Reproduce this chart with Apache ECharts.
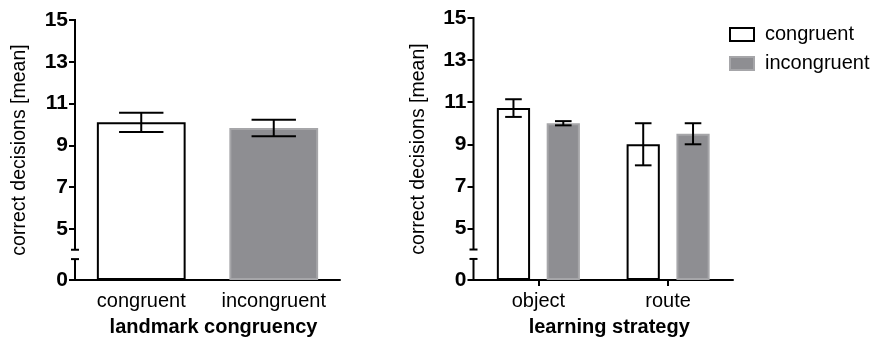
<!DOCTYPE html>
<html><head><meta charset="utf-8">
<script src="https://cdn.jsdelivr.net/npm/echarts@6/dist/echarts.min.js"></script>
<style>html,body{margin:0;padding:0;background:#fff}#c{width:880px;height:342px}</style>
</head><body><div id="c"></div>
<script>
// ---- data ----
const leftCategories = ['congruent', 'incongruent'];
const leftMeans = [10.1, 9.83];
const leftErrors = [0.46, 0.40];
const rightCategories = ['object', 'route'];
const seriesNames = ['congruent', 'incongruent'];
const congruentMeans = [10.72, 9.0];
const congruentErrors = [0.42, 1.0];
const incongruentMeans = [10.0, 9.5];
const incongruentErrors = [0.1, 0.5];
const yTickValues = [0, 5, 7, 9, 11, 13, 15];
const yBreakStart = 1;
const yBreakEnd = 4;
const yMax = 15;

// ---- styles ----
const FONT = 'Liberation Sans, Arial, Helvetica, sans-serif';
const whiteStyle = { color: '#ffffff', borderColor: '#000000', borderWidth: 2 };
const grayStyle = { color: '#8e8e92', borderColor: '#a6a6a9', borderWidth: 2 };
const styles = [whiteStyle, grayStyle];

const LEFT_CAT_GAP = 0.33;
const RIGHT_CAT_GAP = 0.36;
const RIGHT_BAR_GAP = 0.50;

function errorRender(idx, count, catGap, barGap) {
  return function (params, api) {
    const x = api.value(0), mean = api.value(1), err = api.value(2);
    const band = api.size([1, 0])[0];
    const total = band * (1 - catGap);
    const bw = total / (count + (count - 1) * barGap);
    const off = -total / 2 + idx * bw * (1 + barGap) + bw / 2;
    const cx = api.coord([x, mean])[0] + off;
    const top = api.coord([x, mean + err])[1];
    const bot = api.coord([x, mean - err])[1];
    const hw = bw / 4;
    const st = { stroke: '#000', lineWidth: 2 };
    return { type: 'group', children: [
      { type: 'line', shape: { x1: cx, y1: top, x2: cx, y2: bot }, style: st },
      { type: 'line', shape: { x1: cx - hw, y1: top, x2: cx + hw, y2: top }, style: st },
      { type: 'line', shape: { x1: cx - hw, y1: bot, x2: cx + hw, y2: bot }, style: st }
    ]};
  };
}

function axisRender(params, api) {
  const cs = params.coordSys;
  const x = cs.x;
  const y0 = api.coord([0, 0])[1];
  const yb0 = api.coord([0, yBreakStart])[1];
  const yb1 = api.coord([0, yBreakEnd])[1];
  const yt = api.coord([0, yMax])[1];
  const st = { stroke: '#000', lineWidth: 2 };
  return { type: 'group', children: [
    { type: 'line', shape: { x1: x, y1: y0 + 1, x2: x, y2: yb0 }, style: st },
    { type: 'line', shape: { x1: x - 4, y1: yb0, x2: x + 4, y2: yb0 }, style: st },
    { type: 'line', shape: { x1: x, y1: yb1, x2: x, y2: yt - 1 }, style: st },
    { type: 'line', shape: { x1: x - 4, y1: yb1, x2: x + 4, y2: yb1 }, style: st }
  ]};
}

function yAxisFor(gridIndex) {
  return {
    gridIndex, type: 'value', min: 0, max: yMax,
    breaks: [{ start: yBreakStart, end: yBreakEnd, gap: '3.6%' }],
    breakArea: { show: false },
    axisLine: { show: false },
    splitLine: { show: false },
    axisTick: { show: true, length: 6, customValues: yTickValues, lineStyle: { color: '#000', width: 2 } },
    axisLabel: { customValues: yTickValues, fontSize: 21, fontWeight: 'bold', color: '#000', margin: 7, fontFamily: FONT },
    name: 'correct decisions [mean]', nameLocation: 'middle', nameGap: 45,
    nameTextStyle: { fontSize: 19.5, color: '#000', fontFamily: FONT }
  };
}

function xAxisFor(gridIndex, data, name, ticks) {
  return {
    gridIndex, type: 'category', data,
    axisLine: { lineStyle: { color: '#000', width: 2 } },
    axisTick: { show: ticks, alignWithLabel: true, length: 6, lineStyle: { color: '#000', width: 2 } },
    axisLabel: { interval: 0, hideOverlap: false, fontSize: 20, color: '#000', margin: 11, fontFamily: FONT },
    name, nameLocation: 'middle', nameGap: 37,
    nameTextStyle: { fontSize: 20, fontWeight: 'bold', color: '#000', fontFamily: FONT, padding: [0, 0, 0, 12] }
  };
}

const chart = echarts.init(document.getElementById('c'), null, { renderer: 'canvas' });
chart.setOption({
  animation: false,
  backgroundColor: '#fff',
  textStyle: { fontFamily: FONT },
  grid: [
    { left: 75, top: 20, width: 265, height: 263 },
    { left: 473.5, top: 18, width: 259.5, height: 264 }
  ],
  xAxis: [
    xAxisFor(0, leftCategories, 'landmark congruency', false),
    xAxisFor(1, rightCategories, 'learning strategy', true)
  ],
  yAxis: [yAxisFor(0), yAxisFor(1)],
  legend: {
    data: seriesNames, orient: 'vertical', left: 724, top: 19, icon: 'rect',
    itemWidth: 24, itemHeight: 13, itemGap: 8,
    textStyle: { fontSize: 20, color: '#000', fontFamily: FONT, lineHeight: 21, padding: [0, 0, 0, 6] }
  },
  series: [
    {
      type: 'bar', name: 'landmark', xAxisIndex: 0, yAxisIndex: 0,
      barCategoryGap: (LEFT_CAT_GAP * 100) + '%',
      data: leftMeans.map((v, i) => ({ value: v, itemStyle: styles[i] }))
    },
    {
      type: 'custom', name: 'landmark-err', xAxisIndex: 0, yAxisIndex: 0, z: 5,
      renderItem: errorRender(0, 1, LEFT_CAT_GAP, 0),
      encode: { x: 0, y: 1 },
      data: leftMeans.map((v, i) => [i, v, leftErrors[i]])
    },
    {
      type: 'bar', name: seriesNames[0], xAxisIndex: 1, yAxisIndex: 1,
      barGap: (RIGHT_BAR_GAP * 100) + '%', barCategoryGap: (RIGHT_CAT_GAP * 100) + '%',
      itemStyle: whiteStyle, data: congruentMeans
    },
    {
      type: 'bar', name: seriesNames[1], xAxisIndex: 1, yAxisIndex: 1,
      barGap: (RIGHT_BAR_GAP * 100) + '%', barCategoryGap: (RIGHT_CAT_GAP * 100) + '%',
      itemStyle: grayStyle, data: incongruentMeans
    },
    {
      type: 'custom', name: 'c-err', xAxisIndex: 1, yAxisIndex: 1, z: 5,
      renderItem: errorRender(0, 2, RIGHT_CAT_GAP, RIGHT_BAR_GAP),
      encode: { x: 0, y: 1 },
      data: congruentMeans.map((v, i) => [i, v, congruentErrors[i]])
    },
    {
      type: 'custom', name: 'i-err', xAxisIndex: 1, yAxisIndex: 1, z: 5,
      renderItem: errorRender(1, 2, RIGHT_CAT_GAP, RIGHT_BAR_GAP),
      encode: { x: 0, y: 1 },
      data: incongruentMeans.map((v, i) => [i, v, incongruentErrors[i]])
    },
    {
      type: 'custom', name: 'axis0', xAxisIndex: 0, yAxisIndex: 0, z: 6, silent: true,
      renderItem: axisRender, encode: { x: 0, y: 1 }, data: [[0, 0]]
    },
    {
      type: 'custom', name: 'axis1', xAxisIndex: 1, yAxisIndex: 1, z: 6, silent: true,
      renderItem: axisRender, encode: { x: 0, y: 1 }, data: [[0, 0]]
    }
  ]
});
</script>
</body></html>
